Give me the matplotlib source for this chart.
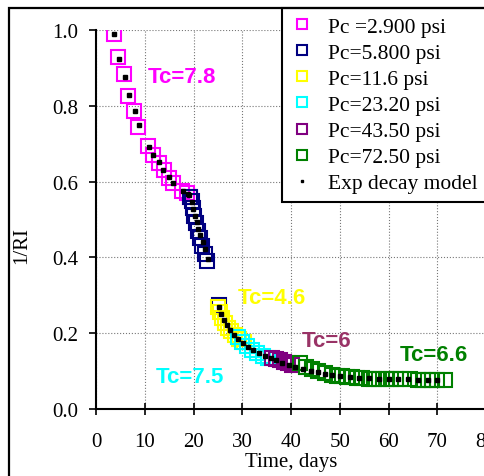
import matplotlib.pyplot as plt
from matplotlib.patches import Rectangle

# data
t_pc29 = [3.6, 4.6, 5.8, 6.6, 7.8, 8.7, 10.7, 11.6, 12.9, 13.9, 15.0, 15.8, 17.6, 18.6, 19.3]
ri_pc29 = [0.99, 0.93, 0.885, 0.825, 0.785, 0.745, 0.695, 0.67, 0.65, 0.63, 0.61, 0.595, 0.575, 0.57, 0.56]

t_pc58 = [19.2, 19.6, 19.9, 20.2, 20.6, 21.0, 21.4, 21.8, 22.3, 22.8, 25.3]
ri_pc58 = [0.56, 0.55, 0.53, 0.51, 0.49, 0.47, 0.45, 0.43, 0.41, 0.39, 0.275]

t_pc116 = [25.1, 25.5, 25.9, 26.5, 27.1, 27.7, 28.5, 29.4, 30.4]
ri_pc116 = [0.27, 0.255, 0.24, 0.228, 0.215, 0.205, 0.195, 0.186, 0.178]

t_pc232 = [29.2, 30.0, 31.0, 32.0, 33.0, 34.2, 35.3]
ri_pc232 = [0.19, 0.176, 0.165, 0.155, 0.147, 0.14, 0.135]

t_pc435 = [36.0, 36.9, 37.7, 38.5, 39.3, 40.2]
ri_pc435 = [0.135, 0.132, 0.128, 0.125, 0.121, 0.117]

t_pc725 = [41.9, 43.1, 44.4, 45.6, 47.0, 48.5, 49.5, 50.5, 51.5, 52.5, 53.5, 54.5,
           56.0, 57.0, 58.0, 59.5, 60.5, 61.5, 62.5, 64.5, 66.0, 67.0, 68.0, 69.0, 70.0, 71.5]
ri_pc725 = [0.122, 0.112, 0.105, 0.1, 0.095, 0.09, 0.088, 0.086, 0.085, 0.084, 0.083, 0.082,
            0.08, 0.08, 0.079, 0.079, 0.079, 0.078, 0.078, 0.078, 0.077, 0.077, 0.077, 0.077, 0.077, 0.077]

t_model = [3.6, 4.7, 6.0, 6.7, 7.9, 8.8, 10.8, 11.6, 12.9, 13.8, 14.9, 15.8, 17.9, 18.9,
           19.1, 19.7, 19.9, 20.3, 20.7, 20.9, 21.4, 22.0, 22.4, 22.9,
           25.3, 25.7, 26.2, 26.8, 27.5, 28.3, 29.2, 30.2,
           31.2, 32.3, 33.4, 34.6, 35.8, 37.0, 38.2, 39.5, 40.8,
           42.5, 44.0, 45.5, 47.0, 48.5, 50.0, 52.0, 54.0, 56.0, 58.0,
           60.0, 62.0, 64.0, 66.0, 68.0, 70.0]
ri_model = [0.99, 0.924, 0.877, 0.828, 0.786, 0.749, 0.691, 0.67, 0.652, 0.631, 0.612, 0.596, 0.575, 0.567,
            0.565, 0.546, 0.528, 0.509, 0.493, 0.475, 0.459, 0.44, 0.422, 0.395,
            0.268, 0.25, 0.236, 0.222, 0.208, 0.196, 0.185, 0.174,
            0.164, 0.155, 0.147, 0.14, 0.134, 0.128, 0.122, 0.117, 0.112,
            0.106, 0.101, 0.097, 0.093, 0.09, 0.087, 0.085, 0.083, 0.081, 0.08,
            0.079, 0.078, 0.078, 0.077, 0.077, 0.077]

series = [
    (t_pc29, ri_pc29, '#FF00FF', 'Pc =2.900 psi'),
    (t_pc58, ri_pc58, '#000080', 'Pc=5.800 psi'),
    (t_pc116, ri_pc116, '#FFFF00', 'Pc=11.6 psi'),
    (t_pc232, ri_pc232, '#00FFFF', 'Pc=23.20 psi'),
    (t_pc435, ri_pc435, '#800080', 'Pc=43.50 psi'),
    (t_pc725, ri_pc725, '#008000', 'Pc=72.50 psi'),
]

serif = 'Liberation Serif'

fig = plt.figure(figsize=(4.84, 4.77), dpi=100)
ax = fig.add_axes([96 / 484, 1 - 410 / 477, 390 / 484, 379 / 477])

for t, ri, c, lab in series:
    ax.plot(t, ri, ls='none', marker='s', ms=10.5, mfc='none', mec=c, mew=1.5, label=lab)
ax.plot(t_model, ri_model, ls='none', marker='s', ms=3, color='black', label='Exp decay model')

ax.set_xlim(0, 80)
ax.set_ylim(0, 1.0)
ax.set_xticks(range(0, 81, 10))
ax.set_yticks([0, 0.2, 0.4, 0.6, 0.8, 1.0])
ax.set_yticklabels(['0.0', '0.2', '0.4', '0.6', '0.8', '1.0'])
ax.grid(True, ls=':', color='#777777', lw=0.8)
ax.set_axisbelow(True)

for s in ['top', 'right']:
    ax.spines[s].set_visible(False)
for s in ['left', 'bottom']:
    ax.spines[s].set_linewidth(1.5)

ax.tick_params(axis='x', direction='inout', length=9, width=1.2, pad=12)
ax.tick_params(axis='y', direction='out', length=5, width=1.2, pad=8)
for lbl in ax.get_xticklabels() + ax.get_yticklabels():
    lbl.set_fontfamily(serif)
    lbl.set_fontsize(15)

ax.set_xlabel('Time, days', fontfamily=serif, fontsize=15, labelpad=1)
ax.set_ylabel('1/RI', fontfamily=serif, fontsize=15)
ax.yaxis.set_label_coords(-0.165, 0.435)

tfont = dict(fontfamily='Liberation Sans', fontweight='bold', fontsize=16)
ax.text(10.7, 0.877, 'Tc=7.8', color='#FF00FF', va='center', **tfont)
ax.text(29.0, 0.295, 'Tc=4.6', color='#FFFF00', va='center', **tfont)
ax.text(12.3, 0.085, 'Tc=7.5', color='#00FFFF', va='center', **tfont)
ax.text(42.3, 0.18, 'Tc=6', color='#993366', va='center', **tfont)
ax.text(62.3, 0.145, 'Tc=6.6', color='#008000', va='center', **tfont)

leg = ax.legend(loc='upper right', bbox_to_anchor=(1.004, 1 - 9 / 477), bbox_transform=fig.transFigure,
                fancybox=False, framealpha=1, edgecolor='black', borderaxespad=0,
                prop={'family': serif, 'size': 15.5}, markerscale=0.65,
                handlelength=1.0, handletextpad=0.7, labelspacing=0.28, borderpad=0.4)
leg.get_frame().set_linewidth(1.5)

fig.add_artist(Rectangle((9 / 484, -0.1), 1.2, 1.1 - 9 / 477, transform=fig.transFigure,
                         fill=False, ec='black', lw=1.6))

fig.savefig('out.png', dpi=100)
